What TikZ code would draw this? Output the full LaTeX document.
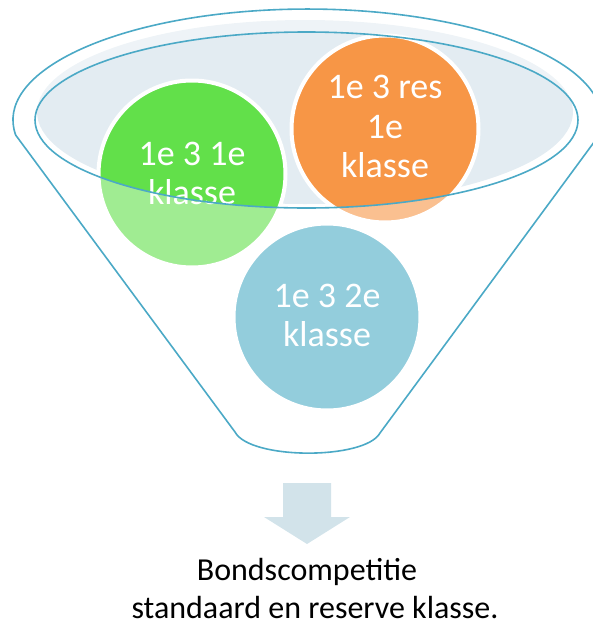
\documentclass[tikz,border=0pt]{standalone}
\usepackage{fontspec}
\setmainfont{Carlito}
\definecolor{fgreen}{HTML}{62E04A}
\definecolor{forange}{HTML}{F79646}
\definecolor{fblue}{HTML}{4BACC6}
\definecolor{fline}{HTML}{4BA9C6}
\definecolor{finner}{HTML}{E3ECF2}
\definecolor{farrow}{HTML}{D2E3EA}
\begin{document}
\begin{tikzpicture}[x=1pt,y=-1pt,
  ball/.style={circle, draw=white, line width=4pt, minimum size=187pt, inner sep=0pt},
  balltext/.style={text=white, align=center, font=\fontsize{36}{39.5}\selectfont, inner sep=0pt},
  caption/.style={anchor=base, inner sep=0pt, text=black, font=\fontsize{32}{38}\selectfont},
  funnelline/.style={draw=fline, line width=1.6pt}]
\useasboundingbox (0,0) rectangle (593,635);
\clip (0,0) rectangle (593,635);
% light interior of the funnel mouth
\fill[finner] (305,112) ellipse [x radius=268, y radius=92];
% balls
\node[ball, fill=fgreen] (green) at (192,174) {};
\node[ball, fill=forange] (orange) at (385,129) {};
\node[ball, fill=fblue] (blue) at (327,317) {};
\node[balltext] (tgreen) at (192,173.5) {1e 3 1e\\klasse};
\node[balltext] (torange) at (385,126.5) {1e 3 res\\1e\\klasse};
\node[balltext] (tblue) at (327,315.5) {1e 3 2e\\klasse};
% translucent funnel body
\path[fill=white, fill opacity=0.4, even odd rule]
  (15.7,135.1) arc[start angle=172.2, end angle=367.8, x radius=294.5, y radius=111]
  -- (380,433) .. controls (365,460) and (250,460) .. (235,432) -- cycle
  (306.5,120) ellipse [x radius=271.5, y radius=88];
% outlines
\draw[funnelline, line join=round]
  (15.7,135.1) arc[start angle=172.2, end angle=367.8, x radius=294.5, y radius=111]
  -- (380,433) .. controls (365,460) and (250,460) .. (235,432) -- cycle;
\draw[funnelline] (306.5,120) ellipse [x radius=271.5, y radius=88];
% down arrow
\fill[farrow] (283,483) -- (331,483) -- (331,517) -- (350,517) -- (307,544)
  -- (264,517) -- (283,517) -- cycle;
% caption
\node[caption] (cap1) at (307,580) {Bondscompetitie};
\node[caption] (cap2) at (315,618) {standaard en reserve klasse.};
\end{tikzpicture}
\end{document}
